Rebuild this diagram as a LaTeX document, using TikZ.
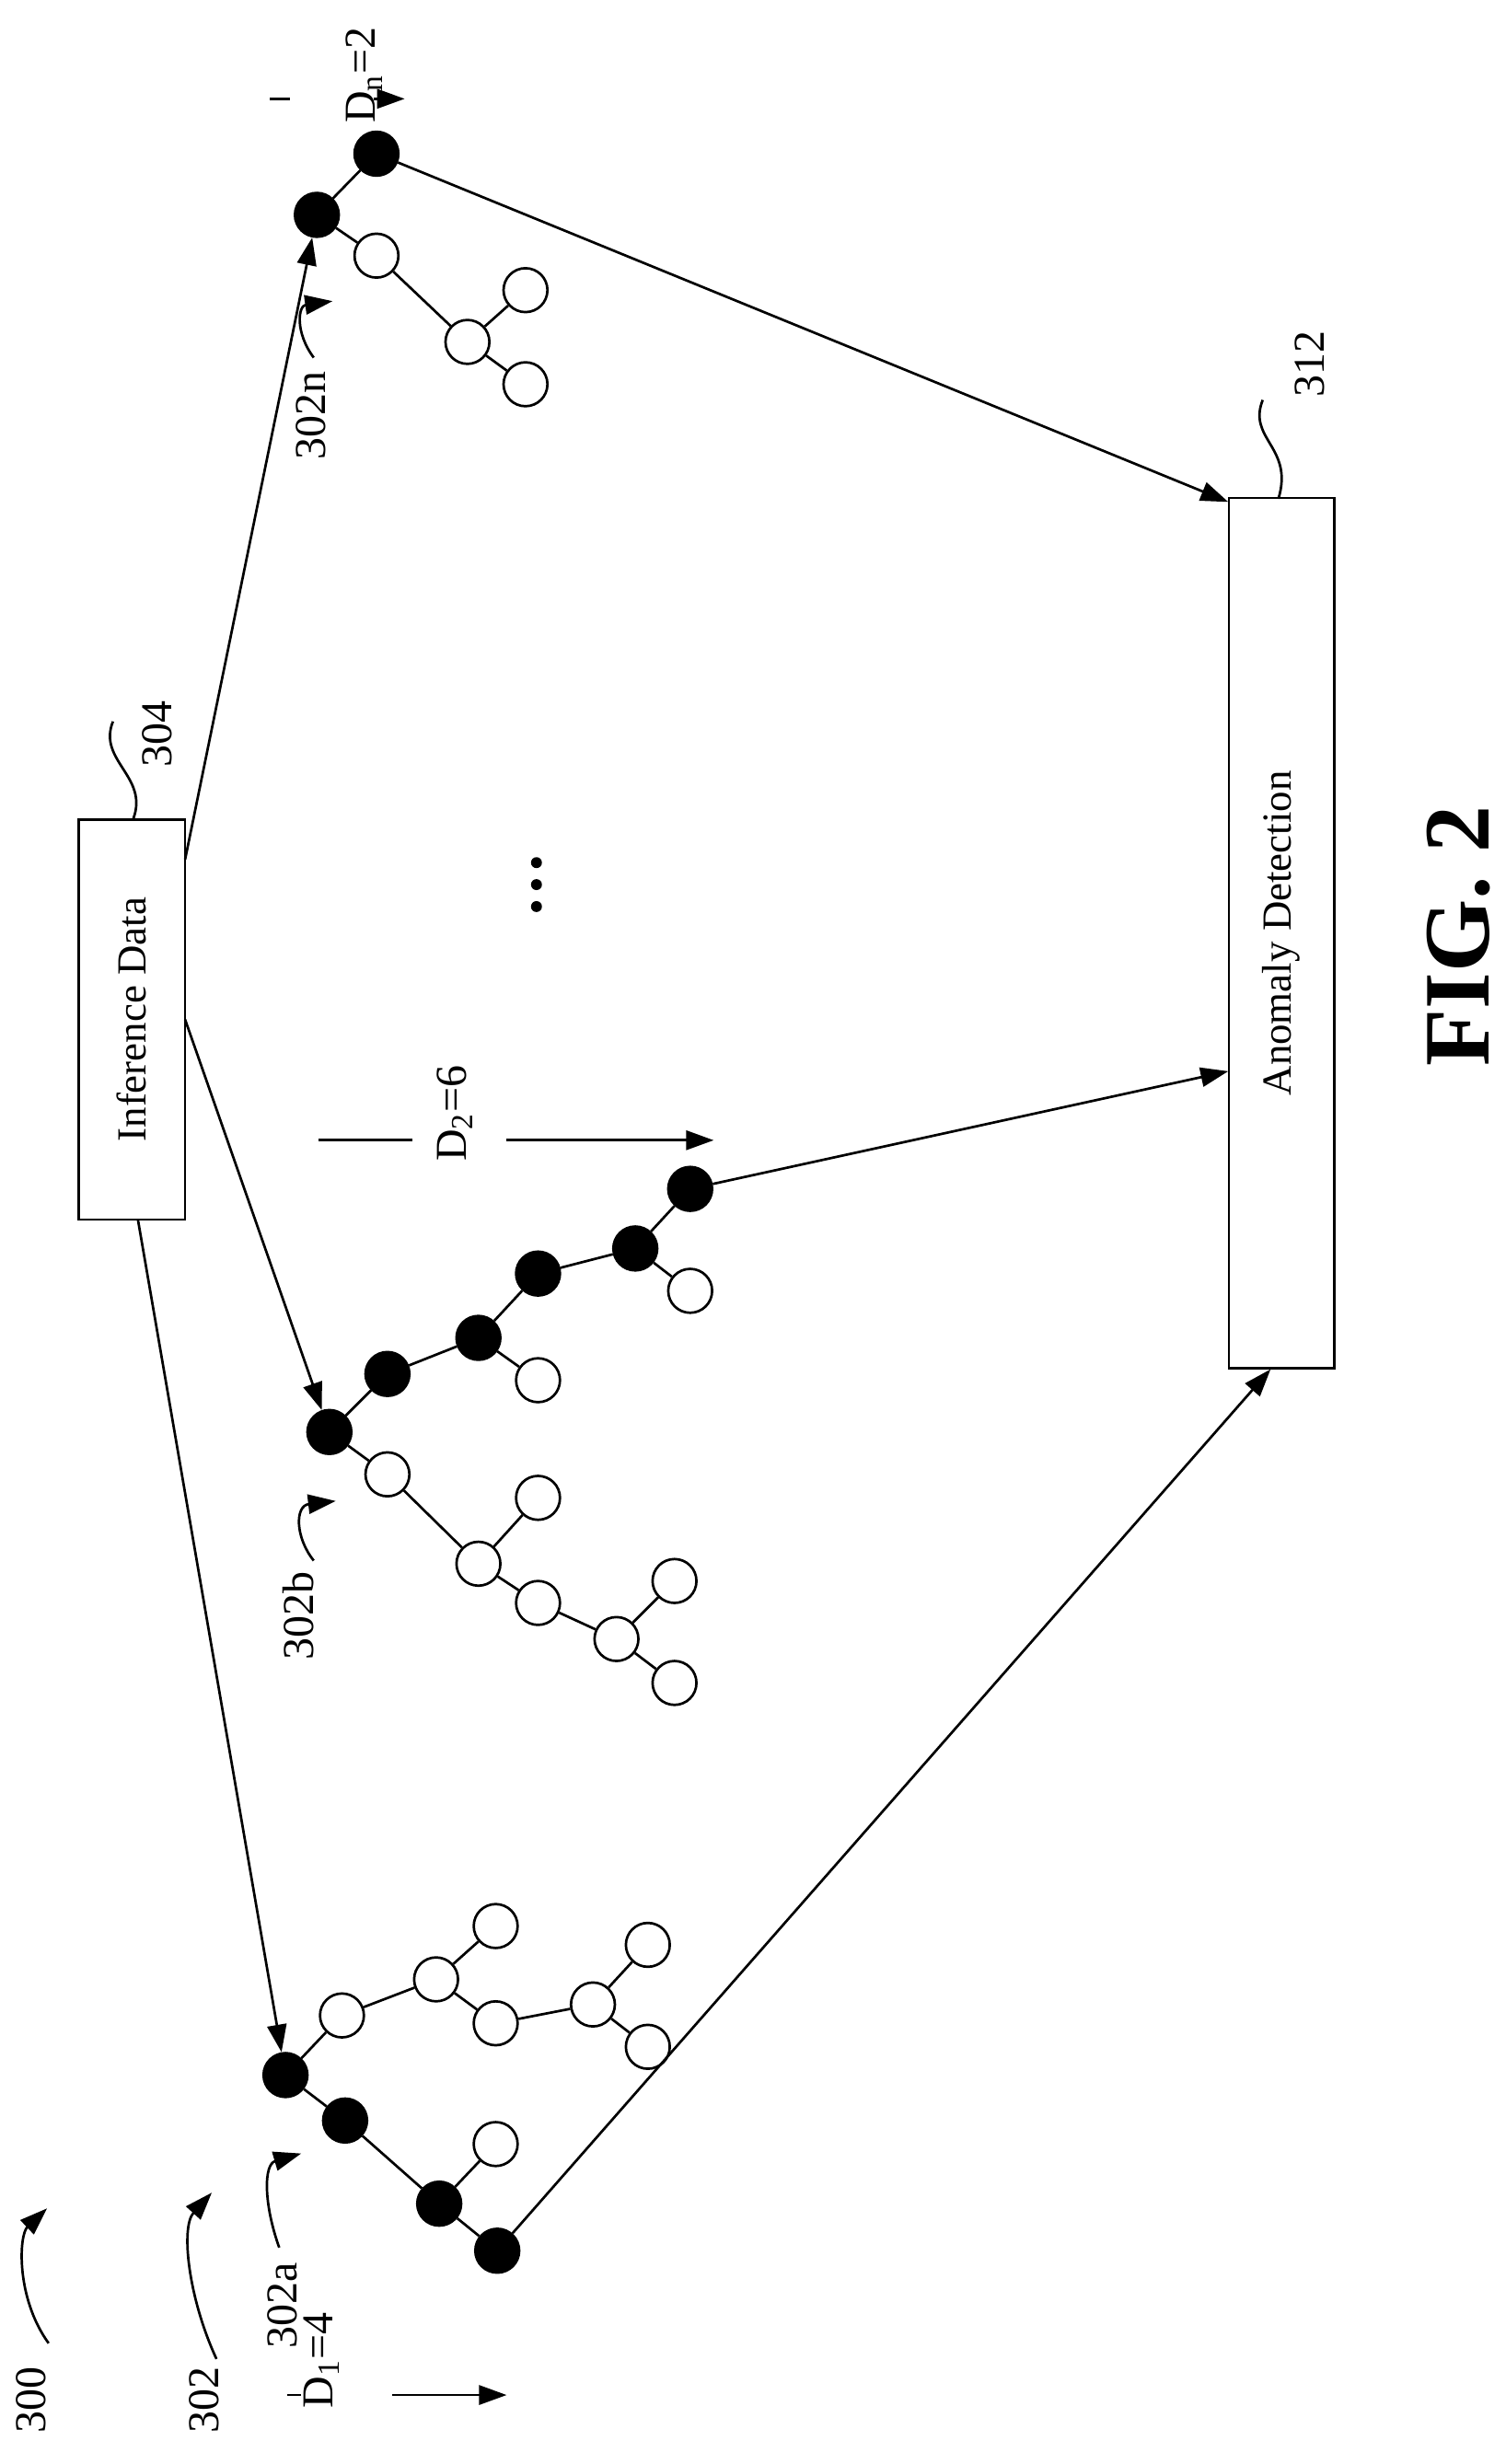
\documentclass[tikz,border=0pt]{standalone}
\usepackage{fontspec}
\setmainfont{Liberation Serif}
\usetikzlibrary{arrows.meta}
\begin{document}
\begin{tikzpicture}[x=0.02cm,y=-0.02cm,line width=0.9pt,
  b/.style={circle,fill=black,draw=black,minimum size=0.56cm,inner sep=0},
  w/.style={circle,fill=white,draw=black,minimum size=0.56cm,inner sep=0},
  arr/.style={-{Triangle[length=10pt,width=7pt]}},
  lbl/.style={rotate=90,font=\fontsize{16}{18}\selectfont},
  box/.style={draw,rotate=90,font=\fontsize{15}{18}\selectfont,inner sep=0}]
\useasboundingbox (0,0) rectangle (960,1571);
% boxes
\node[box,minimum width=255*0.02cm,minimum height=68*0.02cm] (inf) at (84,650) {Inference Data};
\node[box,minimum width=555*0.02cm,minimum height=67*0.02cm] (ano) at (817,595) {Anomaly Detection};
% tree a
\node[b] (a1) at (182,1323) {};
\node[b] (a2) at (220,1352) {};
\node[b] (a3) at (280,1405) {};
\node[b] (a4) at (317,1435) {};
\node[w] (a5) at (316,1367) {};
\node[w] (a6) at (218,1285) {};
\node[w] (a7) at (278,1262) {};
\node[w] (a8) at (316,1228) {};
\node[w] (a9) at (316,1290) {};
\node[w] (a10) at (378,1278) {};
\node[w] (a11) at (413,1240) {};
\node[w] (a12) at (413,1305) {};
\draw (a1)--(a2) (a2)--(a3) (a3)--(a4) (a3)--(a5) (a1)--(a6) (a6)--(a7) (a7)--(a8) (a7)--(a9) (a9)--(a10) (a10)--(a11) (a10)--(a12);
% tree b
\node[b] (b1) at (210,913) {};
\node[b] (b2) at (247,876) {};
\node[b] (b3) at (305,853) {};
\node[b] (b4) at (343,812) {};
\node[b] (b5) at (405,796) {};
\node[b] (b6) at (440,758) {};
\node[w] (b7) at (440,823) {};
\node[w] (b8) at (343,880) {};
\node[w] (b9) at (247,940) {};
\node[w] (b10) at (305,997) {};
\node[w] (b11) at (343,955) {};
\node[w] (b12) at (343,1022) {};
\node[w] (b13) at (393,1045) {};
\node[w] (b14) at (430,1008) {};
\node[w] (b15) at (430,1073) {};
\draw (b1)--(b2) (b2)--(b3) (b3)--(b4) (b4)--(b5) (b5)--(b6) (b5)--(b7) (b3)--(b8) (b1)--(b9) (b9)--(b10) (b10)--(b11) (b10)--(b12) (b12)--(b13) (b13)--(b14) (b13)--(b15);
% tree n
\node[b] (n1) at (202,137) {};
\node[b] (n2) at (240,98) {};
\node[w] (n3) at (240,163) {};
\node[w] (n4) at (298,218) {};
\node[w] (n5) at (335,185) {};
\node[w] (n6) at (335,245) {};
\draw (n1)--(n2) (n1)--(n3) (n3)--(n4) (n4)--(n5) (n4)--(n6);
% connectors
\coordinate (i1) at (118,548);
\coordinate (i2) at (118,650);
\coordinate (i3) at (88,778);
\draw[arr] (i1) -- (n1);
\draw[arr] (i2) -- (b1);
\draw[arr] (i3) -- (a1);
\coordinate (o1) at (783,320);
\coordinate (o2) at (783,683);
\coordinate (o3) at (810,873);
\draw[arr] (n2) -- (o1);
\draw[arr] (b6) -- (o2);
\draw[arr] (a4) -- (o3);
% dots
\fill (342,550) circle (3.5) (342,564) circle (3.5) (342,578) circle (3.5);
% depth markers
\node[lbl] (dn) at (232,48) {D\textsubscript{n}=2};
\coordinate (dn0) at (172,63); \coordinate (dn1) at (185,63);
\coordinate (dn2) at (238,63); \coordinate (dn3) at (258,63);
\draw (dn0)--(dn1); \draw[arr] (dn2)--(dn3);
\node[lbl] (d2) at (290,710) {D\textsubscript{2}=6};
\coordinate (d20) at (203,727); \coordinate (d21) at (263,727);
\coordinate (d22) at (323,727); \coordinate (d23) at (455,727);
\draw (d20)--(d21); \draw[arr] (d22)--(d23);
\node[lbl] (d1) at (205,1505) {D\textsubscript{1}=4};
\coordinate (d10) at (183,1527); \coordinate (d11) at (192,1527);
\coordinate (d12) at (250,1527); \coordinate (d13) at (323,1527);
\draw (d10)--(d11); \draw[arr] (d12)--(d13);
% reference labels
\node[lbl] (l300) at (20,1530) {300};
\coordinate (c300a) at (31,1494); \coordinate (c300b) at (30,1408);
\draw[arr] (c300a) .. controls (10,1465) and (12,1425) .. (c300b);
\node[lbl] (l302) at (130,1530) {302};
\coordinate (c302a) at (138,1504); \coordinate (c302b) at (135,1398);
\draw[arr] (c302a) .. controls (120,1465) and (115,1420) .. (c302b);
\node[lbl] (l302a) at (180,1470) {302a};
\coordinate (c302aa) at (178,1433); \coordinate (c302ab) at (192,1373);
\draw[arr] (c302aa) .. controls (168,1405) and (168,1380) .. (c302ab);
\node[lbl] (l302b) at (190,1030) {302b};
\coordinate (c302ba) at (200,995); \coordinate (c302bb) at (214,957);
\draw[arr] (c302ba) .. controls (188,980) and (188,960) .. (c302bb);
\node[lbl] (l302n) at (198,265) {302n};
\coordinate (c302na) at (200,228); \coordinate (c302nb) at (212,192);
\draw[arr] (c302na) .. controls (188,212) and (190,195) .. (c302nb);
\node[lbl] (l304) at (100,468) {304};
\coordinate (c304a) at (85,522); \coordinate (c304b) at (72,460);
\draw (c304a) .. controls (95,495) and (62,485) .. (c304b);
\node[lbl] (l312) at (835,232) {312};
\coordinate (c312a) at (815,318); \coordinate (c312b) at (805,255);
\draw (c312a) .. controls (825,285) and (795,280) .. (c312b);
\node[rotate=90,font=\bfseries\fontsize{34}{40}\selectfont] (fig) at (930,597) {FIG. 2};
\end{tikzpicture}
\end{document}
